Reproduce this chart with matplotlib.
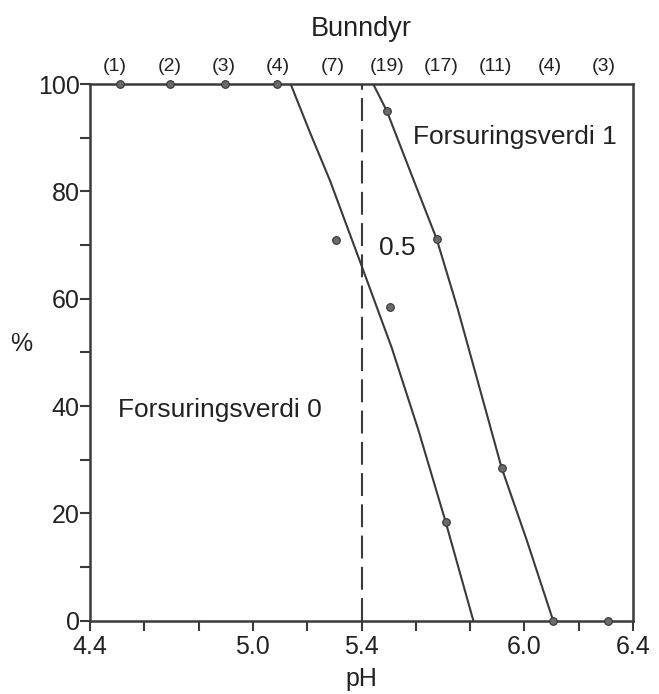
import matplotlib.pyplot as plt
from matplotlib.ticker import MultipleLocator, FixedLocator

# Observed points (pH, %)
top_ph = [4.51, 4.695, 4.897, 5.09]
top_pct = [100, 100, 100, 100]
mid_ph = [5.306, 5.505]
mid_pct = [71, 58.4]
left_pts_ph = [5.71]
left_pts_pct = [18.4]
right_pts_ph = [5.493, 5.677, 5.916, 6.106, 6.307]
right_pts_pct = [95, 71.1, 28.5, 0, 0]

# Fitted curves
curve_left_ph = [5.139, 5.21, 5.284, 5.394, 5.511, 5.609, 5.71, 5.812]
curve_left_pct = [100, 91, 82, 67, 50.9, 35.6, 18.4, 0]
curve_right_ph = [5.443, 5.493, 5.585, 5.677, 5.755, 5.826, 5.916, 6.008, 6.106]
curve_right_pct = [100, 95, 83, 71.1, 58, 45, 28.5, 15.1, 0]

# Bunndyr counts per pH bin
bin_ph = [4.5, 4.7, 4.9, 5.1, 5.3, 5.5, 5.7, 5.9, 6.1, 6.3]
bin_counts = [1, 2, 3, 4, 7, 19, 17, 11, 4, 3]

plt.rcParams['font.family'] = ['Liberation Sans', 'DejaVu Sans']
ink = '#3a3a3a'
txt = '#222222'

fig = plt.figure(figsize=(6.59, 6.94), dpi=100)
ax = fig.add_axes([90 / 659, 1 - 620.7 / 694, 543 / 659, 536.7 / 694])

ax.plot(curve_left_ph, curve_left_pct, color=ink, lw=1.5, zorder=2)
ax.plot(curve_right_ph, curve_right_pct, color=ink, lw=1.5, zorder=2)
ax.axvline(5.4, color=ink, lw=1.5, ls=(0, (11, 4)), zorder=1)

dot = dict(marker='o', ls='none', ms=5.5, color='#6a6a6a', mec='#333333', mew=0.8, zorder=3, clip_on=False)
ax.plot(top_ph, top_pct, **dot)
ax.plot(mid_ph, mid_pct, **dot)
ax.plot(left_pts_ph, left_pts_pct, **dot)
ax.plot(right_pts_ph, right_pts_pct, **dot)

ax.set_xlim(4.4, 6.4)
ax.set_ylim(0, 100)
ax.xaxis.set_major_locator(FixedLocator([4.4, 5.0, 5.4, 6.0, 6.4]))
ax.xaxis.set_minor_locator(MultipleLocator(0.2))
ax.yaxis.set_major_locator(MultipleLocator(20))
ax.yaxis.set_minor_locator(MultipleLocator(10))
ax.set_xticklabels(['4.4', '5.0', '5.4', '6.0', '6.4'])
ax.tick_params(which='both', direction='out', color=ink, width=1.5, length=7,
               labelsize=18, labelcolor=txt)
ax.tick_params(axis='x', which='major', pad=3)
ax.tick_params(axis='y', which='major', pad=0.5)
for sp in ax.spines.values():
    sp.set_color(ink)
    sp.set_linewidth(1.8)

ax.text(0.5, -0.1215, 'pH', transform=ax.transAxes, ha='center', va='baseline', fontsize=18, color=txt)
ax.text(-0.127, 0.516, '%', transform=ax.transAxes, ha='center', va='center', fontsize=18, color=txt)

for ph, n in zip(bin_ph, bin_counts):
    ax.text(ph - 0.007, 102.4, f'({n})', ha='center', va='baseline', fontsize=14, color=txt)
ax.text(0.5, 1.0894, 'Bunndyr', transform=ax.transAxes, ha='center', va='baseline', fontsize=19.5, color=txt)

ax.text(5.59, 88.9, 'Forsuringsverdi 1', fontsize=19, color=txt, va='baseline')
ax.text(4.503, 38.0, 'Forsuringsverdi 0', fontsize=19, color=txt, va='baseline')
ax.text(5.464, 68.1, '0.5', fontsize=19, color=txt, va='baseline')

fig.savefig('out.png', dpi=100)
